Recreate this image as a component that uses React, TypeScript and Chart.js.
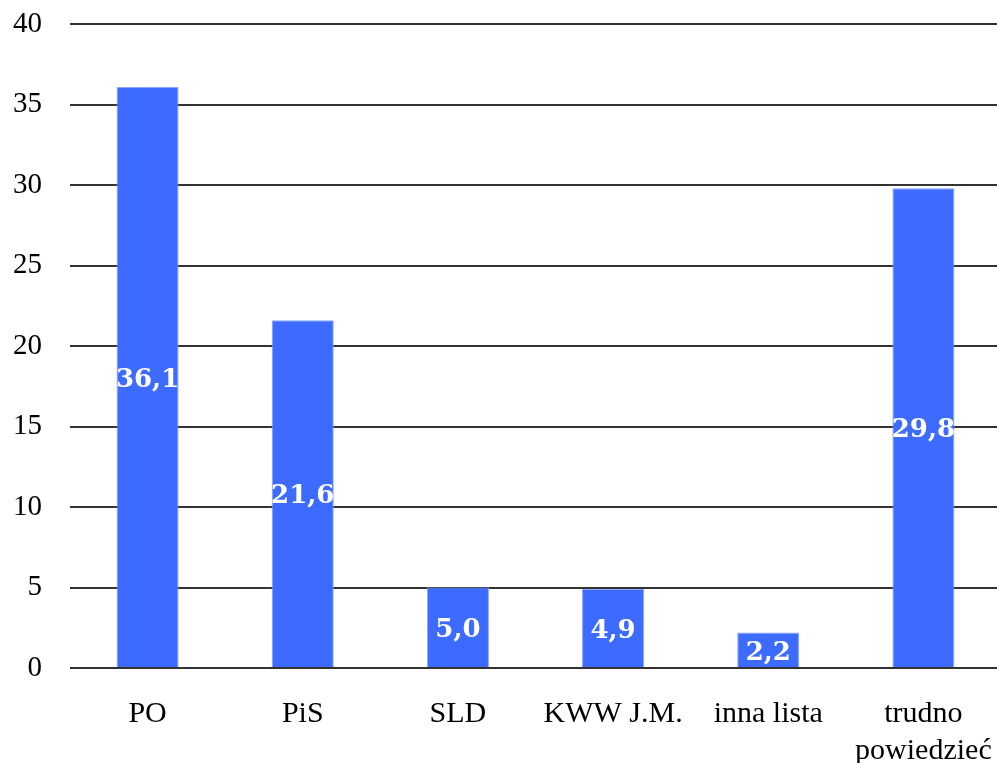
import React, { useEffect, useRef } from "react";
import { Chart, registerables } from "chart.js";

Chart.register(...registerables);

const categories: (string | string[])[] = ["PO", "PiS", "SLD", "KWW J.M.", "inna lista", ["trudno", "powiedzieć"]];
const values: number[] = [36.1, 21.6, 5.0, 4.9, 2.2, 29.8];
const valueLabels: string[] = ["36,1", "21,6", "5,0", "4,9", "2,2", "29,8"];

const barLabelPlugin = {
  id: "barLabels",
  afterDatasetsDraw(chart: any) {
    const ctx = chart.ctx;
    const meta = chart.getDatasetMeta(0);
    ctx.save();
    ctx.fillStyle = "#ffffff";
    ctx.font = "bold 26px 'DejaVu Serif'";
    ctx.textAlign = "center";
    ctx.textBaseline = "middle";
    meta.data.forEach((bar: any, i: number) => {
      const yMid = (bar.y + bar.base) / 2 + 3;
      ctx.fillText(valueLabels[i], bar.x, yMid);
    });
    ctx.restore();
  },
};

export default function App() {
  const ref = useRef<HTMLCanvasElement | null>(null);
  useEffect(() => {
    if (!ref.current) return;
    const chart = new Chart(ref.current, {
      type: "bar",
      data: {
        labels: categories,
        datasets: [
          {
            data: values,
            backgroundColor: "#3D6BFF",
            borderColor: "#8AA6FF",
            borderWidth: 1,
            categoryPercentage: 1,
            barPercentage: 0.4,
          },
        ],
      },
      options: {
        responsive: false,
        animation: false,
        layout: { padding: { top: 24, left: 0, right: 0, bottom: 0 } },
        plugins: { legend: { display: false }, tooltip: { enabled: false } },
        scales: {
          x: {
            grid: { display: false, drawTicks: false },
            border: { display: false },
            ticks: {
              color: "#000",
              font: { family: "'Liberation Serif'", size: 30, lineHeight: 1.25 },
              padding: 27,
              maxRotation: 0,
              autoSkip: false,
            },
            afterFit: (scale: any) => {
              scale.height = 95;
              scale.paddingLeft = 0;
              scale.paddingRight = 0;
            },
          },
          y: {
            min: 0,
            max: 40,
            grid: { color: "#333", lineWidth: 2, drawTicks: false },
            border: { display: false },
            ticks: {
              stepSize: 5,
              color: "#000",
              font: { family: "'Liberation Serif'", size: 29 },
              padding: 28,
            },
            afterFit: (scale: any) => {
              scale.width = 70;
              scale.paddingTop = 0;
              scale.paddingBottom = 0;
            },
          },
        },
      },
      plugins: [barLabelPlugin],
    });
    return () => chart.destroy();
  }, []);
  return (
    <div style={{ position: "fixed", left: 0, top: 0, width: 997, height: 763, overflow: "hidden", background: "#fff" }}>
      <canvas ref={ref} width={1001} height={763} style={{ width: 1001, height: 763, display: "block" }} />
    </div>
  );
}
